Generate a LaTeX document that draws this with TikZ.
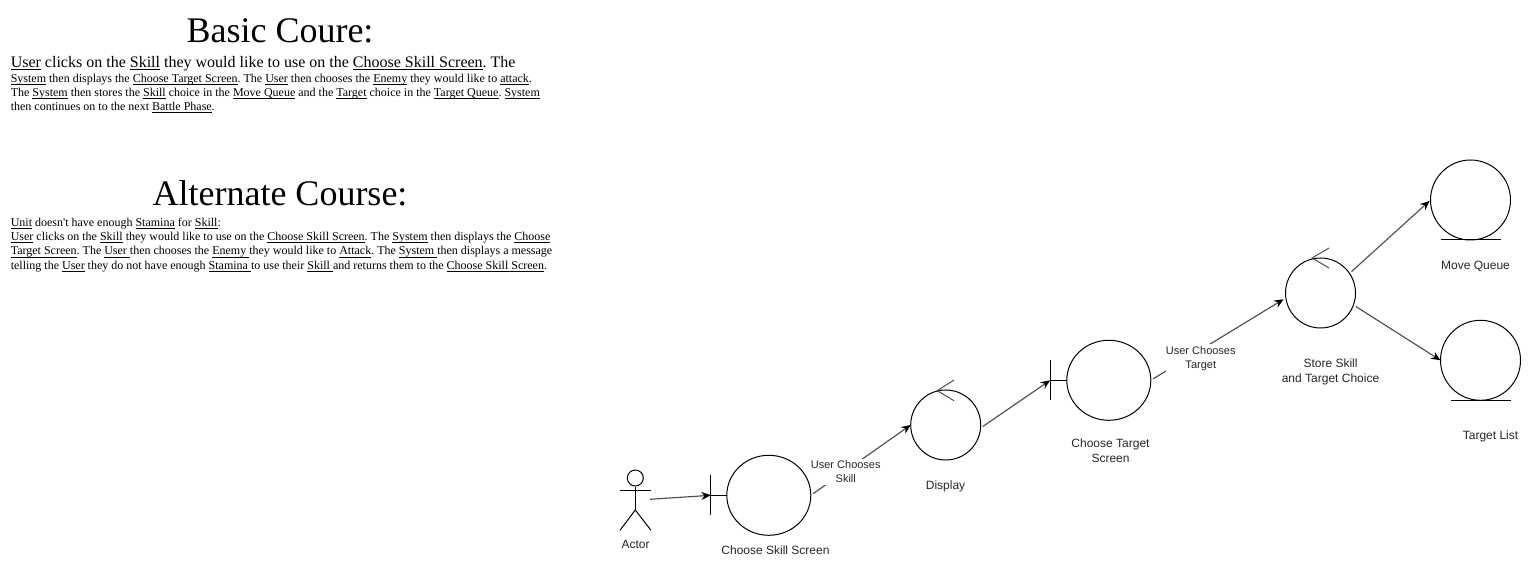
\documentclass[tikz,border=0pt]{standalone}
\usepackage{fontspec}
\usepackage{tikz}
\usetikzlibrary{arrows.meta,shapes.geometric}
\newfontfamily\bodyfont{Liberation Serif}
\newfontfamily\labelfont{Liberation Sans}
\newcommand{\ulw}[1]{\underline{\smash{#1}}}
\frenchspacing
\tikzset{
	heading/.style={font=\bodyfont\fontsize{27}{32}\selectfont,inner sep=0pt},
	leadline/.style={font=\bodyfont\fontsize{12}{14}\selectfont,inner sep=0pt,anchor=north west},
	bodytext/.style={font=\bodyfont\fontsize{9}{10.6}\selectfont,inner sep=0pt,anchor=north west,align=left},
	caption/.style={font=\labelfont\fontsize{9}{11.25}\selectfont,text=black!85,inner sep=0pt,align=center},
	linklabel/.style={font=\labelfont\fontsize{8.25}{10.5}\selectfont,text=black!85,inner xsep=0pt,inner ysep=1.5pt,align=center,fill=white},
	robust/.style={draw,ellipse,inner sep=0pt,outer sep=0pt,line width=0.75pt},
	mark line/.style={line width=0.75pt},
	flow/.style={-{Stealth[length=7pt,width=6pt,color=black]},line width=0.85pt,draw=black!70,shorten <=2pt}
}
\begin{document}
\begin{tikzpicture}[x=0.75pt,y=-0.75pt]
	\useasboundingbox (0,0) rectangle (1531,566);
	% use case text
	\node[heading] (basictitle) at (280,30.5) {Basic Coure:};
	\node[leadline] (basiclead) at (10.5,56) {\ulw{User} clicks on the \ulw{Skill} they would like to use on the \ulw{Choose Skill Screen}. The};
	\node[bodytext] (basicbody) at (10.5,74) {\ulw{System} then displays the \ulw{Choose Target Screen}. The \ulw{User} then chooses the \ulw{Enemy} they would like to \ulw{attack}.\\
		The \ulw{System} then stores the \ulw{Skill} choice in the \ulw{Move Queue} and the \ulw{Target} choice in the \ulw{Target Queue}. \ulw{System}\\
		then continues on to the next \ulw{Battle Phase}.};
	\node[heading] (alttitle) at (280,193.5) {Alternate Course:};
	\node[bodytext] (altbody) at (10.5,218) {\ulw{Unit} doesn't have enough \ulw{Stamina} for \ulw{Skill}:\\
		\ulw{User} clicks on the \ulw{Skill} they would like to use on the \ulw{Choose Skill Screen}. The \ulw{System} then displays the \ulw{Choose}\\
		\ulw{Target Screen}. The \ulw{User\ }then chooses the \ulw{Enemy\ }they would like to \ulw{Attack}. The \ulw{System\ }then displays a message\\
		telling the \ulw{User} they do not have enough \ulw{Stamina\ }to use their \ulw{Skill\ }and returns them to the \ulw{Choose Skill Screen}.};
	% robustness circles
	\node[robust,minimum width=63pt,minimum height=60pt] (chooseskill) at (768.8,495.3) {};
	\node[robust,minimum width=52.5pt,minimum height=52.5pt] (display) at (945.7,425) {};
	\node[robust,minimum width=63pt,minimum height=60pt] (choosetarget) at (1108.8,380.3) {};
	\node[robust,minimum width=52.5pt,minimum height=52.5pt] (store) at (1320.5,293) {};
	\node[robust,minimum width=60pt,minimum height=60pt] (movequeue) at (1470.5,200) {};
	\node[robust,minimum width=60pt,minimum height=60pt] (targetlist) at (1480.5,360.3) {};
	% boundary bars
	\draw[mark line] (chooseskill.west) -- ++(-16,0) coordinate (skillbar) ++(0,-20) -- ++(0,40);
	\draw[mark line] (choosetarget.west) -- ++(-16.7,0) coordinate (targetbar) ++(0,-20) -- ++(0,40);
	% control marks
	\draw[mark line,draw=black!70] (954,380) -- (937.3,390.7) -- (954,400.7);
	\draw[mark line,draw=black!70] (1329,248) -- (1312,258) -- (1329,268);
	% entity lines
	\draw[mark line] (movequeue.south) ++(22.5pt,0) -- ++(-45pt,0);
	\draw[mark line] (targetlist.south) ++(22.5pt,0) -- ++(-45pt,0);
	% actor
	\node[draw,circle,inner sep=0pt,minimum size=12pt,line width=0.75pt] (actorhead) at (635.3,478) {};
	\draw[mark line] (actorhead.south) -- (635.3,510) coordinate (actorhip);
	\draw[mark line] (620,490.3) -- (651,490.3);
	\draw[mark line] (620,530.3) -- (actorhip) -- (651,530.3);
	\coordinate (actorhand) at (650,499.3);
	\node[caption] (actorlabel) at (635.5,544) {Actor};
	% captions
	\node[caption] (skilllabel) at (775.5,550) {Choose Skill Screen};
	\node[caption] (displaylabel) at (945.5,486.3) {Display};
	\node[caption] (targetlabel) at (1110.5,451) {Choose Target\\Screen};
	\node[caption] (storelabel) at (1330.5,372) {Store Skill\\and Target Choice};
	\node[caption] (movelabel) at (1475.5,266.5) {Move Queue};
	\node[caption] (listlabel) at (1490.5,436.5) {Target List};
	% connectors
	\draw[flow,shorten <=0pt] (actorhand) -- (skillbar |- chooseskill.west);
	\draw[flow] (chooseskill.east) -- node[linklabel,pos=.35,yshift=-0.75pt] (skillchoice) {User Chooses\\Skill} (display.west);
	\draw[flow] (display.-5) -- (targetbar);
	\draw[flow,shorten >=2pt] (choosetarget.east) -- node[linklabel,pos=.37,yshift=-6.5pt] (targetchoice) {User Chooses\\Target} (store.188);
	\draw[flow,shorten >=1pt] (store.34) -- (movequeue.west);
	\draw[flow] (store.-20) -- (targetlist.west);
\end{tikzpicture}
\end{document}
